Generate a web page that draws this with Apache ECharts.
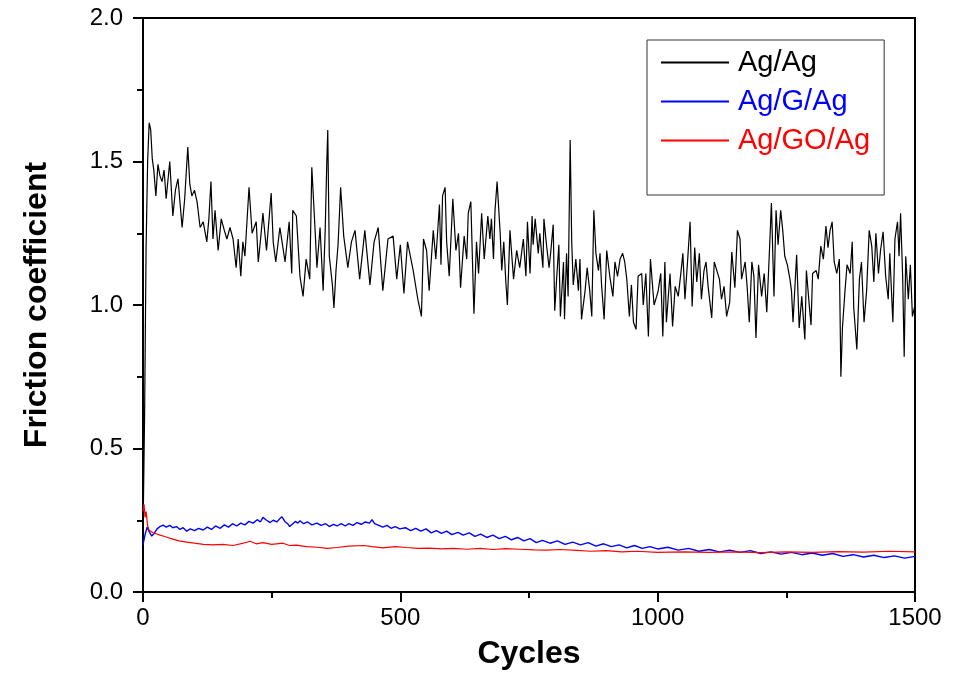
<!DOCTYPE html>
<html>
<head>
<meta charset="utf-8">
<script src="https://cdn.jsdelivr.net/npm/echarts@6/dist/echarts.min.js"></script>
<style>html,body{margin:0;padding:0;background:#fff}#c{width:964px;height:675px}</style>
</head>
<body>
<div id="c"></div>
<script>
var seriesNames = ['Ag/Ag', 'Ag/G/Ag', 'Ag/GO/Ag'];
var xTicks = [0, 500, 1000, 1500];
var yTicks = [0.0, 0.5, 1.0, 1.5, 2.0];

var agAg = [[0,0.2],[3,0.6],[6,1.2],[9,1.5],[12,1.635],[15,1.61],[18,1.51],[21,1.47],[25,1.38],[29,1.49],[33,1.45],[37,1.43],[41,1.47],[45,1.37],[52,1.50],[58,1.31],[63,1.40],[68,1.44],[76,1.27],[81,1.37],[87,1.55],[91,1.42],[95,1.38],[100,1.40],[105,1.36],[111,1.27],[117,1.29],[124,1.22],[128,1.30],[132,1.43],[136,1.23],[140,1.33],[146,1.19],[152,1.30],[158,1.26],[163,1.23],[169,1.27],[175,1.23],[181,1.13],[185,1.23],[190,1.10],[194,1.22],[198,1.17],[206,1.41],[212,1.25],[220,1.29],[224,1.15],[229,1.24],[233,1.32],[240,1.19],[249,1.39],[253,1.22],[258,1.15],[266,1.27],[276,1.15],[284,1.29],[289,1.11],[291,1.33],[298,1.31],[305,1.10],[311,1.03],[317,1.16],[324,1.09],[328,1.48],[333,1.31],[338,1.13],[344,1.27],[350,1.05],[354,1.26],[357,1.49],[359,1.61],[362,1.17],[368,1.07],[371,0.99],[375,1.12],[379,1.21],[384,1.41],[390,1.24],[398,1.13],[405,1.22],[412,1.26],[421,1.09],[431,1.26],[441,1.07],[449,1.22],[457,1.27],[466,1.05],[476,1.23],[486,1.24],[493,1.09],[500,1.21],[507,1.04],[514,1.22],[525,1.12],[534,1.02],[541,0.96],[545,1.23],[551,1.19],[556,1.05],[564,1.26],[569,1.16],[576,1.35],[579,1.14],[582,1.38],[587,1.41],[590,1.22],[595,1.10],[602,1.37],[608,1.19],[613,1.25],[617,1.06],[624,1.24],[629,1.16],[632,1.32],[637,1.36],[643,0.97],[648,1.22],[652,1.11],[658,1.32],[663,1.16],[670,1.31],[674,1.23],[677,1.30],[681,1.16],[684,1.33],[688,1.43],[694,1.25],[697,1.12],[701,1.22],[705,1.08],[708,1.00],[713,1.26],[720,1.09],[726,1.19],[732,1.13],[739,1.23],[744,1.10],[747,1.29],[752,1.11],[756,1.31],[758,1.21],[762,1.30],[768,1.18],[771,1.25],[777,1.13],[779,1.30],[784,1.21],[789,1.13],[792,1.18],[797,1.28],[800,0.98],[804,1.10],[808,1.21],[811,0.96],[817,1.15],[819,0.95],[823,1.18],[826,1.03],[830,1.575],[833,1.22],[836,1.07],[841,1.16],[846,1.05],[849,1.16],[852,0.95],[859,1.05],[863,1.13],[868,1.05],[872,0.96],[876,1.33],[880,1.18],[885,1.12],[888,1.18],[891,1.07],[896,0.95],[901,1.19],[907,1.10],[913,1.03],[917,1.15],[922,1.10],[927,1.16],[932,1.18],[936,1.15],[940,1.09],[945,0.96],[949,1.07],[953,0.94],[958,0.915],[962,1.10],[969,1.11],[972,1.00],[977,1.11],[982,0.89],[986,1.16],[993,1.00],[998,1.03],[1001,1.05],[1006,1.11],[1010,0.89],[1014,1.15],[1017,0.94],[1024,1.11],[1029,0.925],[1034,1.065],[1040,1.03],[1045,1.11],[1049,1.18],[1053,1.02],[1058,1.15],[1063,1.29],[1067,0.995],[1072,1.20],[1076,1.08],[1081,1.18],[1085,1.02],[1090,1.12],[1094,1.15],[1098,1.065],[1105,0.955],[1110,1.15],[1115,1.12],[1120,1.09],[1124,1.02],[1129,1.065],[1134,0.96],[1140,1.01],[1144,1.185],[1150,1.06],[1155,1.26],[1160,1.23],[1163,1.09],[1170,1.15],[1174,1.06],[1178,0.94],[1183,1.15],[1187,1.10],[1191,0.885],[1196,1.14],[1202,1.03],[1207,1.11],[1212,0.975],[1217,1.18],[1221,1.355],[1226,1.03],[1230,1.33],[1234,1.21],[1239,1.33],[1243,1.26],[1247,1.17],[1252,1.14],[1257,1.09],[1260,1.05],[1263,0.94],[1270,1.175],[1275,0.92],[1280,1.03],[1286,0.88],[1289,1.12],[1295,0.99],[1298,0.93],[1301,1.11],[1308,1.12],[1312,1.09],[1317,1.205],[1322,1.16],[1327,1.275],[1331,1.20],[1335,1.26],[1339,1.29],[1343,1.15],[1348,1.11],[1353,1.16],[1356,0.75],[1359,0.92],[1364,1.05],[1368,1.14],[1374,1.11],[1378,1.22],[1381,0.99],[1387,0.845],[1392,1.09],[1396,1.15],[1401,0.94],[1406,1.05],[1411,1.26],[1416,1.205],[1420,1.08],[1424,1.25],[1429,1.11],[1433,1.19],[1438,1.255],[1443,1.10],[1448,1.02],[1451,1.18],[1457,0.94],[1461,1.23],[1466,1.29],[1469,1.17],[1472,1.32],[1476,1.10],[1479,0.82],[1482,1.17],[1487,1.02],[1491,1.14],[1495,0.96],[1500,1.00]];

var agGAg = [[0,0.165],[4,0.2],[8,0.226],[12,0.21],[17,0.195],[22,0.205],[27,0.219],[33,0.228],[39,0.233],[45,0.226],[52,0.232],[58,0.224],[65,0.228],[72,0.218],[78,0.224],[85,0.212],[92,0.22],[100,0.214],[108,0.222],[117,0.216],[125,0.226],[133,0.218],[141,0.23],[150,0.222],[158,0.234],[166,0.226],[174,0.238],[182,0.23],[190,0.24],[198,0.234],[206,0.246],[214,0.24],[222,0.252],[228,0.244],[233,0.26],[240,0.25],[247,0.242],[253,0.25],[260,0.244],[265,0.254],[270,0.262],[276,0.245],[281,0.238],[285,0.228],[290,0.236],[296,0.246],[301,0.24],[305,0.248],[312,0.238],[320,0.244],[328,0.234],[338,0.24],[346,0.232],[355,0.238],[362,0.228],[370,0.236],[377,0.23],[385,0.238],[393,0.23],[400,0.238],[408,0.232],[416,0.242],[424,0.236],[432,0.244],[440,0.24],[445,0.252],[450,0.238],[458,0.232],[466,0.226],[474,0.232],[482,0.222],[490,0.228],[499,0.22],[510,0.224],[520,0.214],[530,0.222],[540,0.212],[550,0.22],[560,0.206],[570,0.214],[580,0.204],[590,0.212],[600,0.2],[612,0.208],[622,0.198],[634,0.206],[645,0.194],[656,0.202],[668,0.19],[680,0.198],[692,0.186],[704,0.194],[716,0.182],[728,0.19],[740,0.178],[752,0.186],[764,0.172],[776,0.18],[791,0.17],[805,0.178],[820,0.166],[835,0.174],[850,0.164],[865,0.172],[880,0.16],[895,0.168],[910,0.158],[925,0.164],[940,0.154],[955,0.162],[970,0.152],[985,0.158],[1000,0.15],[1020,0.156],[1040,0.146],[1060,0.152],[1080,0.142],[1100,0.148],[1120,0.14],[1140,0.146],[1160,0.138],[1180,0.144],[1200,0.134],[1220,0.14],[1240,0.132],[1260,0.138],[1280,0.13],[1300,0.136],[1320,0.128],[1340,0.134],[1360,0.124],[1380,0.13],[1400,0.122],[1420,0.128],[1440,0.12],[1460,0.126],[1480,0.118],[1500,0.124]];

var agGOAg = [[0,0.28],[2,0.306],[4,0.26],[6,0.28],[9,0.23],[12,0.215],[15,0.209],[21,0.205],[27,0.202],[33,0.198],[39,0.195],[48,0.19],[58,0.184],[70,0.178],[85,0.174],[100,0.17],[117,0.166],[135,0.164],[155,0.166],[175,0.162],[195,0.17],[208,0.177],[220,0.168],[233,0.172],[250,0.166],[272,0.17],[285,0.162],[298,0.163],[318,0.158],[338,0.156],[358,0.152],[377,0.155],[400,0.16],[429,0.162],[445,0.158],[466,0.154],[490,0.158],[512,0.155],[535,0.152],[557,0.153],[580,0.15],[603,0.152],[630,0.149],[655,0.152],[680,0.148],[705,0.151],[732,0.149],[760,0.147],[784,0.146],[810,0.148],[843,0.145],[870,0.142],[900,0.144],[930,0.14],[960,0.142],[1000,0.138],[1050,0.14],[1100,0.138],[1150,0.14],[1200,0.137],[1250,0.14],[1300,0.138],[1350,0.141],[1400,0.139],[1450,0.142],[1500,0.14]];

var FONT = 'Liberation Sans, Arial, sans-serif';
var chart = echarts.init(document.getElementById('c'), null, {renderer: 'canvas'});
var colors = ['#000000', '#0000ff', '#ff0000'];
chart.setOption({
  animation: false,
  backgroundColor: '#fff',
  color: colors,
  grid: {left: 143, right: 49, top: 18, bottom: 82, show: true, borderColor: '#000', borderWidth: 2, backgroundColor: 'transparent'},
  legend: {
    orient: 'vertical', left: 647, top: 40,
    padding: [8, 14, 40, 14],
    borderColor: '#333', borderWidth: 1, backgroundColor: '#fff',
    itemWidth: 68, itemHeight: 2, itemGap: 10, icon: 'rect',
    textStyle: {fontSize: 29, fontFamily: FONT, lineHeight: 28, padding: [0, 0, 0, 4]},
    data: seriesNames.map(function (n, i) { return {name: n, textStyle: {color: colors[i]}}; })
  },
  xAxis: {
    type: 'value', min: xTicks[0], max: xTicks[xTicks.length - 1], interval: 500,
    name: 'Cycles', nameLocation: 'middle', nameGap: 46,
    nameTextStyle: {fontSize: 32, fontWeight: 'bold', fontFamily: FONT, color: '#000'},
    axisLine: {show: true, lineStyle: {color: '#000', width: 2}},
    axisTick: {show: true, inside: false, length: 10, lineStyle: {color: '#000', width: 2}},
    minorTick: {show: true, splitNumber: 2, length: 6, lineStyle: {color: '#000', width: 2}},
    axisLabel: {fontSize: 24, fontFamily: FONT, color: '#000', margin: 14, formatter: function (v) { return String(v); }},
    splitLine: {show: false}
  },
  yAxis: {
    type: 'value', min: yTicks[0], max: yTicks[yTicks.length - 1], interval: 0.5,
    name: 'Friction coefficient', nameLocation: 'middle', nameGap: 90,
    nameTextStyle: {fontSize: 32, fontWeight: 'bold', fontFamily: FONT, color: '#000'},
    axisLine: {show: true, lineStyle: {color: '#000', width: 2}},
    axisTick: {show: true, inside: false, length: 10, lineStyle: {color: '#000', width: 2}},
    minorTick: {show: true, splitNumber: 2, length: 6, lineStyle: {color: '#000', width: 2}},
    axisLabel: {fontSize: 24, fontFamily: FONT, color: '#000', margin: 20, formatter: function (v) { return v.toFixed(1); }},
    splitLine: {show: false}
  },
  series: [
    {name: seriesNames[0], type: 'line', data: agAg, showSymbol: false, symbol: 'none', lineStyle: {width: 1.2, color: colors[0]}, z: 3},
    {name: seriesNames[1], type: 'line', data: agGAg, showSymbol: false, symbol: 'none', lineStyle: {width: 1.4, color: colors[1]}, z: 2},
    {name: seriesNames[2], type: 'line', data: agGOAg, showSymbol: false, symbol: 'none', lineStyle: {width: 1.2, color: colors[2]}, z: 4}
  ]
});
</script>
</body>
</html>
